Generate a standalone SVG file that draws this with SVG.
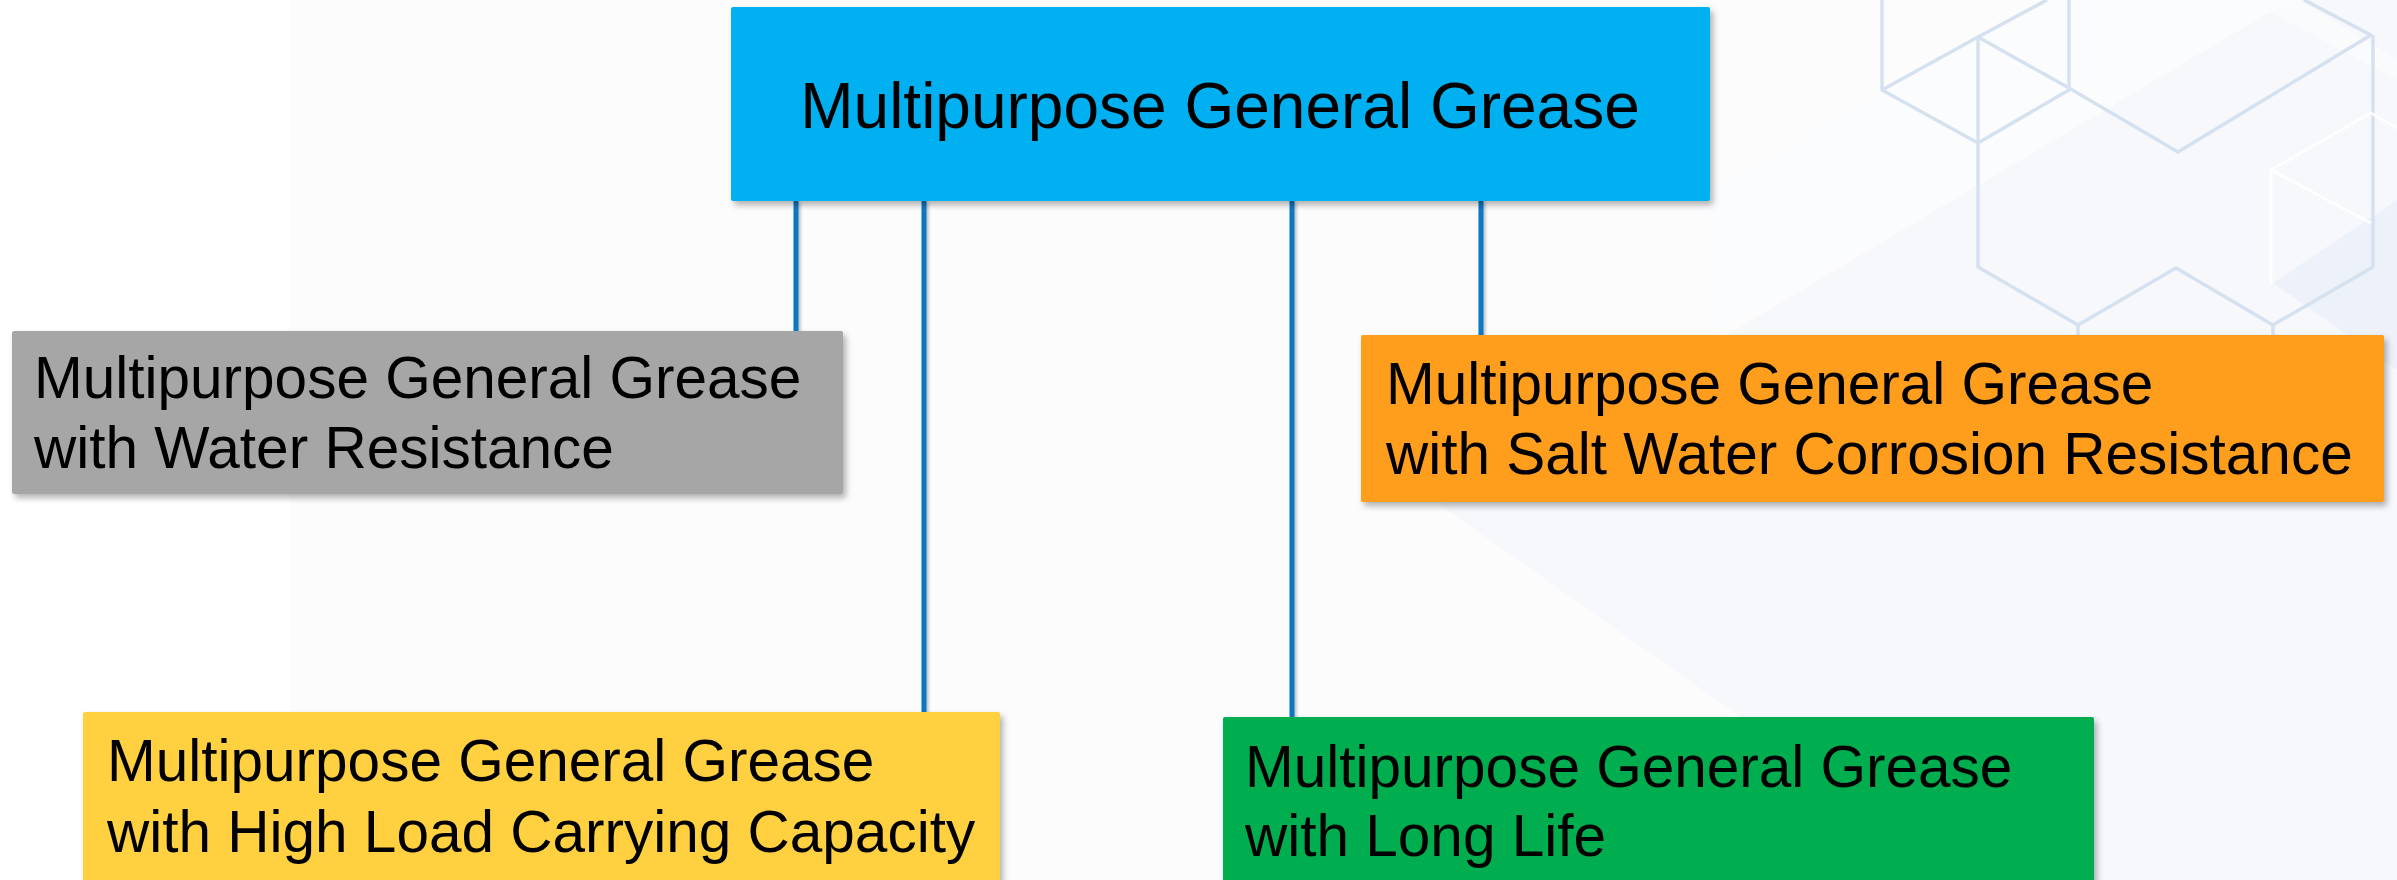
<svg xmlns="http://www.w3.org/2000/svg" width="2397" height="880" viewBox="0 0 2397 880">
  <defs>
    <filter id="sh" x="-5%" y="-10%" width="110%" height="130%">
      <feDropShadow dx="3" dy="4" stdDeviation="3" flood-color="#000" flood-opacity="0.3"/>
    </filter>
    <filter id="lsh" x="-50%" y="-5%" width="200%" height="110%">
      <feDropShadow dx="2" dy="2" stdDeviation="1.5" flood-color="#000" flood-opacity="0.25"/>
    </filter>
  </defs>
  <style>
    .t { font-family: "Liberation Sans", Arial, sans-serif; fill: #000; }
    .sub { font-size: 58.5px; }
    .main { font-size: 64px; }
    .conn { stroke: #0A77C2; stroke-width: 5; fill: none; }
    .hex { stroke: #D6E1EF; stroke-width: 3.5; fill: none; stroke-linejoin: round; }
    .hexw { stroke: #FFFFFF; stroke-width: 3; fill: none; opacity: 0.8; }
  </style>

  <!-- background -->
  <g id="background">
    <rect x="0" y="0" width="2397" height="880" fill="#FCFCFC"/>
    <rect x="0" y="0" width="290" height="880" fill="#FFFFFF"/>
    <polygon points="1440,505 2290,0 2397,0 2397,880 1972,880" fill="#F6F8FC"/>
    <polygon points="1700,197 2040,0 2300,0 2397,60 2397,80 2270,12 1719,333" fill="#FBFCFE" opacity="0.7"/>
    <polygon points="2273,283 2397,200 2397,370" fill="#EDF1F9"/>
    <g class="hexs">
      <polyline class="hex" points="1882,0 1882,90 1978,143 2069,90 2069,0"/>
      <polyline class="hex" points="1882,90 1978,37 2047,0"/>
      <polyline class="hex" points="1978,37 2069,88 2178,152 2371,35 2304,0"/>
      <polyline class="hex" points="1978,37 1978,267 2078,325 2176,268 2273,325 2373,267 2373,35"/>
      <line class="hex" x1="2078" y1="325" x2="2078" y2="340"/>
      <line class="hex" x1="2273" y1="325" x2="2273" y2="340"/>
      <polyline class="hexw" points="2397,128 2371,113 2271,170 2271,283"/>
      <polyline class="hexw" points="2271,170 2371,223"/>
    </g>
  </g>

  <!-- connectors -->
  <g id="connectors" filter="url(#lsh)">
    <line class="conn" x1="796" y1="200" x2="796" y2="331"/>
    <line class="conn" x1="924" y1="200" x2="924" y2="712"/>
    <line class="conn" x1="1292" y1="200" x2="1292" y2="717"/>
    <line class="conn" x1="1481" y1="200" x2="1481" y2="335"/>
  </g>

  <g id="node-main">
    <rect x="731" y="7" width="979" height="194" rx="2" fill="#00B0F0" filter="url(#sh)"/>
    <text class="t main" x="1220" y="128" text-anchor="middle">Multipurpose General Grease</text>
  </g>

  <g id="node-water">
    <rect x="12" y="331" width="831" height="163" rx="2" fill="#A6A6A6" filter="url(#sh)"/>
    <text class="t sub" x="34" y="398">Multipurpose General Grease</text>
    <text class="t sub" x="34" y="468">with Water Resistance</text>
  </g>

  <g id="node-salt">
    <rect x="1361" y="335" width="1023" height="167" rx="2" fill="#FF9E1B" filter="url(#sh)"/>
    <text class="t sub" x="1386" y="404">Multipurpose General Grease</text>
    <text class="t sub" x="1386" y="474">with Salt Water Corrosion Resistance</text>
  </g>

  <g id="node-load">
    <rect x="83" y="712" width="917" height="180" rx="2" fill="#FFD040" filter="url(#sh)"/>
    <text class="t sub" x="107" y="781">Multipurpose General Grease</text>
    <text class="t sub" x="107" y="852">with High Load Carrying Capacity</text>
  </g>

  <g id="node-life">
    <rect x="1223" y="717" width="871" height="175" rx="2" fill="#00AD4F" filter="url(#sh)"/>
    <text class="t sub" x="1245" y="787">Multipurpose General Grease</text>
    <text class="t sub" x="1245" y="856">with Long Life</text>
  </g>
</svg>
